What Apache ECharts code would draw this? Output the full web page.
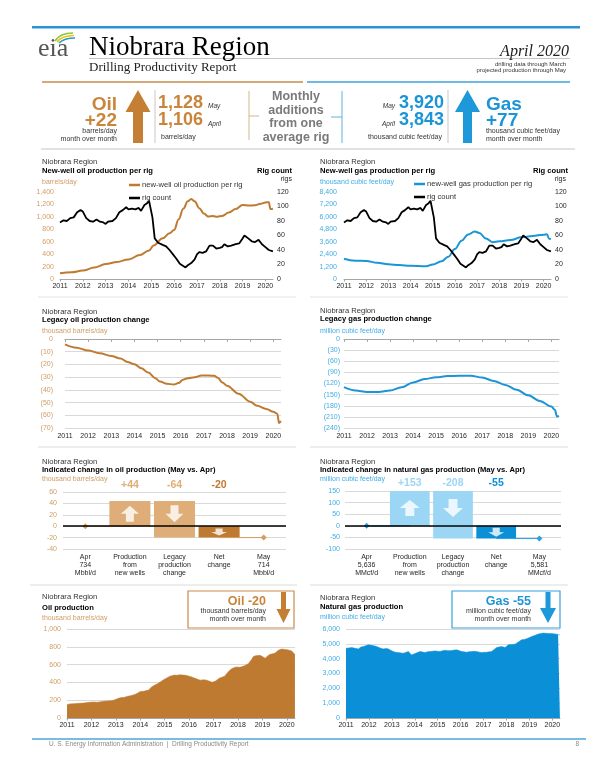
<!DOCTYPE html>
<html><head><meta charset="utf-8">
<script src="https://cdn.jsdelivr.net/npm/echarts/dist/echarts.min.js"></script>
<style>html,body{margin:0;padding:0;background:#fff}#c{width:613px;height:770px}</style>
</head><body><div id="c"></div>
<script>
// ---------------- data ----------------
const years = [2011,2012,2013,2014,2015,2016,2017,2018,2019,2020];
const oilPerRig = [[2011.0,92],[2011.5,108],[2012.0,135],[2012.5,185],[2013.0,240],[2013.5,275],[2014.0,315],[2014.5,385],[2014.9,460],[2015.1,540],[2015.5,655],[2015.8,735],[2016.0,790],[2016.2,960],[2016.4,1130],[2016.6,1250],[2016.75,1288],[2016.9,1250],[2017.1,1140],[2017.3,1055],[2017.5,1005],[2017.7,1012],[2017.9,1002],[2018.1,1015],[2018.4,1070],[2018.7,1125],[2019.0,1190],[2019.3,1182],[2019.5,1185],[2019.8,1210],[2020.0,1232],[2020.15,1236],[2020.22,1125],[2020.33,1130]];
const gasPerRig = [[2011.0,1950],[2011.5,1760],[2012.0,1750],[2012.5,1560],[2013.0,1420],[2013.5,1340],[2014.0,1290],[2014.7,1230],[2015.0,1400],[2015.4,1720],[2015.7,2150],[2016.0,2900],[2016.3,3700],[2016.6,4300],[2016.9,4580],[2017.1,4450],[2017.4,3900],[2017.7,3560],[2018.0,3640],[2018.5,3760],[2019.0,4020],[2019.5,4160],[2020.0,4280],[2020.15,4320],[2020.25,3880],[2020.33,3850]];
const rigCount = [[2011.0,78],[2011.05,76],[2011.15,81],[2011.3,80],[2011.45,84],[2011.6,85],[2011.75,92],[2011.9,95],[2012.0,93],[2012.15,84],[2012.3,80],[2012.45,79],[2012.6,82],[2012.75,79],[2012.9,78],[2013.0,76],[2013.1,79],[2013.3,80],[2013.45,84],[2013.6,92],[2013.75,95],[2013.9,99],[2014.0,96],[2014.15,97],[2014.3,96],[2014.45,98],[2014.55,94],[2014.7,102],[2014.8,104],[2014.9,108],[2014.97,106],[2015.05,85],[2015.15,56],[2015.3,50],[2015.5,47],[2015.65,45],[2015.8,40],[2015.95,34],[2016.1,28],[2016.25,21],[2016.4,18],[2016.5,16],[2016.6,19],[2016.75,22],[2016.9,27],[2017.0,34],[2017.1,37],[2017.25,36],[2017.4,38],[2017.55,46],[2017.7,46],[2017.85,42],[2018.0,43],[2018.1,44],[2018.2,48],[2018.35,45],[2018.5,46],[2018.7,48],[2018.85,49],[2019.0,56],[2019.08,60],[2019.25,56],[2019.4,52],[2019.55,51],[2019.7,54],[2019.85,48],[2020.0,44],[2020.15,40],[2020.33,38]];
const legacyOil = [[2011.0,-4.2],[2011.5,-6.8],[2012.0,-9.1],[2012.5,-11.2],[2013.0,-13.3],[2013.4,-15.4],[2013.7,-18],[2014.0,-19.8],[2014.3,-23],[2014.6,-26.4],[2014.9,-30.8],[2015.1,-33.4],[2015.4,-35.2],[2015.7,-35.8],[2015.9,-34.7],[2016.1,-32.1],[2016.3,-30.8],[2016.6,-30],[2016.9,-28.7],[2017.2,-28.7],[2017.45,-29],[2017.6,-30.5],[2017.8,-34.2],[2018.0,-36.8],[2018.5,-43],[2019.0,-49.3],[2019.3,-52.5],[2019.7,-55],[2020.0,-57.2],[2020.17,-58.7],[2020.25,-66],[2020.33,-64.5]];
const legacyGas = [[2011.0,-130],[2011.5,-139],[2012.0,-143],[2012.5,-143],[2013.0,-139],[2013.5,-130],[2014.0,-117],[2014.5,-108],[2015.0,-103],[2015.5,-100],[2016.0,-99],[2016.5,-99],[2017.0,-104],[2017.5,-113],[2018.0,-124],[2018.5,-137],[2019.0,-152],[2019.5,-167],[2020.0,-182],[2020.15,-191],[2020.25,-209],[2020.33,-207]];
const oilProd = [[2011.0,150],[2011.1,158],[2011.27,161],[2011.5,165],[2011.68,168],[2011.9,176],[2012.09,180],[2012.25,178],[2012.36,182],[2012.5,188],[2012.64,191],[2012.8,194],[2012.91,200],[2013.05,215],[2013.18,228],[2013.35,232],[2013.45,242],[2013.59,250],[2013.75,262],[2013.86,275],[2014.0,298],[2014.06,290],[2014.13,300],[2014.34,315],[2014.45,345],[2014.54,362],[2014.7,385],[2014.82,404],[2014.95,430],[2015.02,442],[2015.12,455],[2015.22,470],[2015.29,490],[2015.4,482],[2015.5,480],[2015.6,485],[2015.77,482],[2015.9,478],[2015.97,472],[2016.1,462],[2016.18,452],[2016.3,440],[2016.45,425],[2016.52,432],[2016.59,430],[2016.72,425],[2016.86,410],[2016.95,402],[2017.0,398],[2017.08,415],[2017.13,425],[2017.25,450],[2017.34,458],[2017.45,470],[2017.54,500],[2017.64,530],[2017.74,552],[2017.85,568],[2017.95,573],[2018.05,570],[2018.15,575],[2018.22,595],[2018.29,590],[2018.36,570],[2018.42,610],[2018.49,630],[2018.56,660],[2018.63,690],[2018.72,700],[2018.8,708],[2018.9,705],[2019.0,690],[2019.11,672],[2019.2,695],[2019.31,715],[2019.42,722],[2019.52,730],[2019.65,760],[2019.78,775],[2019.86,780],[2019.95,770],[2020.06,765],[2020.13,760],[2020.2,752],[2020.25,734],[2020.33,714]];
const gasProd = [[2011.0,4706],[2011.12,4720],[2011.25,4751],[2011.4,4700],[2011.54,4660],[2011.65,4780],[2011.76,4819],[2011.88,4880],[2011.97,4932],[2012.05,5045],[2012.12,4900],[2012.19,4819],[2012.3,4840],[2012.41,4774],[2012.52,4700],[2012.63,4660],[2012.75,4690],[2012.85,4660],[2012.95,4560],[2013.06,4480],[2013.17,4430],[2013.28,4412],[2013.4,4390],[2013.5,4367],[2013.6,4420],[2013.72,4480],[2013.8,4400],[2013.86,4253],[2013.94,4290],[2014.01,4344],[2014.12,4420],[2014.23,4480],[2014.34,4450],[2014.45,4412],[2014.55,4460],[2014.66,4480],[2014.77,4500],[2014.88,4525],[2015.0,4500],[2015.1,4480],[2015.2,4530],[2015.32,4570],[2015.45,4540],[2015.61,4548],[2015.72,4580],[2015.83,4593],[2015.95,4540],[2016.05,4480],[2016.15,4460],[2016.26,4434],[2016.37,4470],[2016.48,4480],[2016.6,4500],[2016.7,4480],[2016.82,4440],[2016.92,4412],[2017.03,4430],[2017.14,4434],[2017.25,4460],[2017.35,4480],[2017.46,4620],[2017.57,4751],[2017.68,4790],[2017.79,4819],[2017.87,4780],[2017.94,4751],[2018.02,4850],[2018.08,4932],[2018.22,4950],[2018.37,4977],[2018.5,5100],[2018.66,5271],[2018.77,5300],[2018.88,5339],[2019.0,5420],[2019.1,5497],[2019.25,5580],[2019.39,5656],[2019.5,5690],[2019.61,5724],[2019.72,5710],[2019.83,5701],[2019.95,5690],[2020.05,5680],[2020.12,5656],[2020.25,5636],[2020.33,5581]];
const stepLabels = ['Production\nfrom\nnew wells','Legacy\nproduction\nchange','Net\nchange'];
const oilStep = [734, 44, -64];   // April level, new wells, legacy
const gasStep = [5636, 153, -208];
const oilRigMayApr = [1128, 1106];
const gasRigMayApr = [3920, 3843];

// ---------------- styles ----------------
const SANS = '"Liberation Sans", Arial, sans-serif';
const SERIF = '"Liberation Serif", "Times New Roman", serif';
const OIL = '#bf7a31', OIL_LIGHT = '#dfad77', OIL_AX = '#d09c64', OIL_HDR = '#c8853b';
const GAS = '#1b95d6', GAS_LIGHT = '#9cd6f5', GAS_AX = '#43ade6', GAS_NET = '#0b90d7';
const fmt = v => Number(v).toLocaleString('en-US');
const paren = v => v < 0 ? '(' + (-v) + ')' : String(v);
const sign = v => (v > 0 ? '+' : '') + v;
const UP = 'path://M9,0 L18,8 L13,8 L13,16 L5,16 L5,8 L0,8 Z';
const DOWN = 'path://M5,0 L13,0 L13,8 L18,8 L9,16 L0,8 L5,8 Z';

function yearX(g, o) {
  return Object.assign({type:'value', gridIndex:g, min:2011, max:2020.333,
    axisLine:{show:true, onZero:false, lineStyle:{color:'#a6a6a6', width:1}},
    axisTick:{show:true, length:2.5, customValues:years, lineStyle:{color:'#a6a6a6'}},
    axisLabel:{customValues:years, fontSize:7, color:'#262626', margin:4, fontFamily:SANS, formatter:v => String(Math.round(v))},
    splitLine:{show:false}}, o || {});
}
function valY(g, min, max, interval, color, margin, formatter, o) {
  return Object.assign({type:'value', gridIndex:g, min, max, interval,
    axisLine:{show:false}, axisTick:{show:false},
    splitLine:{show:true, lineStyle:{color:'#d9d9d9', width:1}},
    axisLabel:{fontSize:7, color, margin, fontFamily:SANS, formatter}}, o || {});
}
const noGrid = {splitLine:{show:false}};

const grids = [
  {left:60, top:192, width:213, height:87},
  {left:344, top:192, width:207, height:87},
  {left:65, top:339, width:216, height:89},
  {left:344, top:339, width:215, height:89},
  {left:63, top:492, width:223, height:57},
  {left:345, top:491, width:216, height:58},
  {left:67, top:629, width:228, height:89},
  {left:346, top:629, width:214, height:89}
].map(g => Object.assign({containLabel:false, outerBoundsMode:'none'}, g));

function stepCats(step, unit) {
  const may = step[0] + step[1] + step[2];
  return ['Apr\n' + fmt(step[0]) + '\n' + unit, ...stepLabels, 'May\n' + fmt(may) + '\n' + unit];
}
function stepTop(step) { return ['', sign(step[1]), sign(step[2]), sign(step[1] + step[2]), '']; }
function catX(g, data) {
  return {type:'category', gridIndex:g, data, position:'bottom',
    axisLine:{show:false, onZero:false}, axisTick:{show:false},
    axisLabel:{interval:0, fontSize:7, lineHeight:8.2, color:'#262626', margin:4, verticalAlign:'top', fontFamily:SANS}};
}
function catTop(g, data, light, dark, margin) {
  return {type:'category', gridIndex:g, data, position:'top',
    axisLine:{show:false, onZero:false}, axisTick:{show:false},
    axisLabel:{interval:0, fontSize:10.5, fontWeight:'bold', margin, fontFamily:SANS,
      color:(v, i) => i === 3 ? dark : light}};
}

const xAxis = [
  yearX(0), yearX(1),
  yearX(2, {axisLine:{show:false, onZero:false}, axisTick:{show:false},
    axisLabel:{customValues:years, fontSize:7, color:'#262626', margin:5, fontFamily:SANS, formatter:v => String(Math.round(v))}}),
  yearX(2, {position:'top', axisLabel:{show:false}, axisTick:{show:true, inside:true, length:3, customValues:years, lineStyle:{color:'#a6a6a6'}}}),
  yearX(3, {axisLine:{show:false, onZero:false}, axisTick:{show:false},
    axisLabel:{customValues:years, fontSize:7, color:'#262626', margin:5, fontFamily:SANS, formatter:v => String(Math.round(v))}}),
  yearX(3, {position:'top', axisLabel:{show:false}, axisTick:{show:true, inside:true, length:3, customValues:years, lineStyle:{color:'#a6a6a6'}}}),
  catX(4, stepCats(oilStep, 'Mbbl/d')), catTop(4, stepTop(oilStep), OIL_LIGHT, OIL, 1),
  catX(5, stepCats(gasStep, 'MMcf/d')), catTop(5, stepTop(gasStep), GAS_LIGHT, GAS_NET, 2),
  yearX(6), yearX(7)
];
const yAxis = [
  valY(0, 0, 1400, 200, OIL_AX, 6, fmt, noGrid),
  valY(0, 0, 120, 20, '#262626', 4, null, Object.assign({position:'right'}, noGrid)),
  valY(1, 0, 8400, 1200, GAS_AX, 7, fmt, noGrid),
  valY(1, 0, 120, 20, '#262626', 4, null, Object.assign({position:'right'}, noGrid)),
  valY(2, -70, 0, 10, OIL_AX, 12, paren),
  valY(3, -240, 0, 30, GAS_AX, 4, paren),
  valY(4, -40, 60, 20, OIL_AX, 6, null),
  valY(5, -100, 150, 50, GAS_AX, 5, null),
  valY(6, 0, 1000, 200, OIL_AX, 6, fmt),
  valY(7, 0, 6000, 1000, GAS_AX, 6, fmt)
];

function lineS(name, xi, yi, data, color, width, smooth) {
  return {type:'line', name, xAxisIndex:xi, yAxisIndex:yi, data, symbol:'none', smooth: smooth || false,
    smoothMonotone:'x', lineStyle:{color, width}, itemStyle:{color}, z:3};
}
function waterfallSeries(xi, yi, step, light, dark, markerColor, arrowSizes) {
  const nw = step[1], net = step[1] + step[2];
  const st = 'wf' + xi;
  return [
    {type:'bar', xAxisIndex:xi, yAxisIndex:yi, stack:st, barWidth:'92%', data:['-', nw, nw, '-', '-'], itemStyle:{color:light}, z:2},
    {type:'bar', xAxisIndex:xi, yAxisIndex:yi, stack:st, barWidth:'92%', data:['-', '-', net, '-', '-'], itemStyle:{color:light}, z:2},
    {type:'bar', xAxisIndex:xi, yAxisIndex:yi, stack:st, barWidth:'92%', data:['-', '-', '-', net, '-'], itemStyle:{color:dark}, z:2},
    {type:'line', xAxisIndex:xi, yAxisIndex:yi, z:3, lineStyle:{color:markerColor, width:1}, itemStyle:{color:markerColor},
      data:[{value:0, symbol:'diamond', symbolSize:6}, {value:0, symbol:'none'}, '-', {value:net, symbol:'none'}, {value:net, symbol:'diamond', symbolSize:6}]},
    {type:'scatter', xAxisIndex:xi, yAxisIndex:yi, z:4, itemStyle:{color:'#fff'},
      data:[{value:[1, nw / 2], symbol:UP, symbolSize:arrowSizes[0]},
            {value:[2, nw / 2], symbol:DOWN, symbolSize:arrowSizes[1]},
            {value:[3, net / 2], symbol:DOWN, symbolSize:arrowSizes[2]}],
      markLine:{silent:true, symbol:['none','none'], label:{show:false}, lineStyle:{color:'#000', width:1.6, type:'solid'}, data:[{yAxis:0}]}}
  ];
}

const series = [
  lineS('new-well oil production per rig', 0, 0, oilPerRig, OIL, 2, 0.4),
  lineS('rig count', 0, 1, rigCount, '#000', 1.8),
  lineS('new-well gas production per rig', 1, 2, gasPerRig, GAS, 2, 0.4),
  lineS('rig count', 1, 3, rigCount, '#000', 1.8),
  lineS('legacy oil', 2, 4, legacyOil, OIL, 2, 0.35),
  lineS('legacy gas', 4, 5, legacyGas, GAS, 2, 0.35),
  ...waterfallSeries(6, 6, oilStep, OIL_LIGHT, OIL, '#d59c5f', [[18,16],[18,17],[16,7]]),
  ...waterfallSeries(8, 7, gasStep, GAS_LIGHT, GAS_NET, '#2e9fe0', [[20,16],[20,18],[16,9]]),
  Object.assign(lineS('oil production', 10, 8, oilProd, OIL, 0.5), {areaStyle:{color:OIL, opacity:1}}),
  Object.assign(lineS('gas production', 11, 9, gasProd, GAS_NET, 0.5), {areaStyle:{color:GAS_NET, opacity:1}})
];

// ---------------- graphic text / decorations ----------------
function T(x, y, text, size, color, o) {
  o = o || {};
  return {type:'text', x, y, silent:true, z:10, style:{text, fill:color,
    font:(o.italic ? 'italic ' : '') + (o.bold ? 'bold ' : '') + size + 'px ' + (o.family || SANS),
    textAlign:o.align || 'left', textVerticalAlign:'middle'}};
}
function L(x1, y1, x2, y2, color, w) { return {type:'line', silent:true, z:10, shape:{x1, y1, x2, y2}, style:{stroke:color, lineWidth:w}}; }
function P(points, color) { return {type:'polygon', silent:true, z:10, shape:{points}, style:{fill:color}}; }
function panelTitle(x, y1, y2, y3, title, unit, unitColor) {
  return [T(x, y1, 'Niobrara Region', 7.6, '#333'), T(x, y2, title, 7.6, '#000', {bold:true}), T(x, y3, unit, 7, unitColor)];
}
const oilNet = oilStep[1] + oilStep[2], gasNet = gasStep[1] + gasStep[2];
const graphics = [
  // header lines
  {type:'rect', silent:true, shape:{x:32, y:26, width:548, height:2.5}, style:{fill:'#2b93d2'}},
  L(89, 58.5, 570, 58.5, '#b5b5b5', 0.8),
  L(42, 82, 303, 82, '#c98d4c', 1.5),
  L(307, 82, 570, 82, '#3ea2dd', 1.5),
  L(41, 149, 575, 149, '#c4c4c4', 1),
  // eia logo
  {type:'bezierCurve', silent:true, shape:{x1:55, y1:41, cpx1:60, cpy1:33, x2:73, y2:33}, style:{stroke:'#8cc63e', lineWidth:1.6, fill:null}},
  {type:'bezierCurve', silent:true, shape:{x1:57, y1:42, cpx1:62, cpy1:35.5, x2:74, y2:35.5}, style:{stroke:'#f3c300', lineWidth:1.6, fill:null}},
  {type:'bezierCurve', silent:true, shape:{x1:59, y1:43, cpx1:64, cpy1:38, x2:75, y2:38}, style:{stroke:'#2b9bd6', lineWidth:1.6, fill:null}},
  T(38, 49, 'eia', 26, '#555', {family:SERIF}),
  T(89, 48, 'Niobrara Region', 27, '#000', {family:SERIF}),
  T(89, 67.5, 'Drilling Productivity Report', 13, '#222', {family:SERIF}),
  T(569, 51.5, 'April 2020', 16, '#222', {family:SERIF, italic:true, align:'right'}),
  T(566, 64.5, 'drilling data through March', 6, '#333', {align:'right'}),
  T(566, 70.5, 'projected production through May', 6, '#333', {align:'right'}),
  // oil header block
  T(117, 105, 'Oil', 19, OIL_HDR, {bold:true, align:'right'}),
  T(117, 120.5, sign(oilRigMayApr[0] - oilRigMayApr[1]), 19, OIL_HDR, {bold:true, align:'right'}),
  T(117, 131, 'barrels/day', 7, '#333', {align:'right'}),
  T(117, 139, 'month over month', 7, '#333', {align:'right'}),
  P([[138,90],[150.5,112],[143,112],[143,143],[133,143],[133,112],[125.5,112]], '#c47f34'),
  L(155, 90, 155, 143, '#c8c8c8', 1),
  T(158, 103.5, fmt(oilRigMayApr[0]), 18, OIL_HDR, {bold:true}),
  T(208, 106, 'May', 6.5, '#333', {italic:true}),
  T(158, 120.5, fmt(oilRigMayApr[1]), 18, OIL_HDR, {bold:true}),
  T(208, 124, 'April', 6.5, '#333', {italic:true}),
  T(161, 137, 'barrels/day', 7, '#333'),
  // brackets and middle text
  L(249, 91, 249, 140, '#d6b48c', 1), L(249, 116, 259, 116, '#d6b48c', 1),
  L(342, 91, 342, 143, '#5eb2e2', 1), L(331, 117, 342, 117, '#5eb2e2', 1),
  T(296, 97, 'Monthly', 12.5, '#7a7a7a', {bold:true, align:'center'}),
  T(296, 110.5, 'additions', 12.5, '#7a7a7a', {bold:true, align:'center'}),
  T(296, 124, 'from one', 12.5, '#7a7a7a', {bold:true, align:'center'}),
  T(296, 137.5, 'average rig', 12.5, '#7a7a7a', {bold:true, align:'center'}),
  // gas header block
  T(395, 106, 'May', 6.5, '#333', {italic:true, align:'right'}),
  T(399, 103.5, fmt(gasRigMayApr[0]), 18, GAS, {bold:true}),
  T(395, 124, 'April', 6.5, '#333', {italic:true, align:'right'}),
  T(399, 120.5, fmt(gasRigMayApr[1]), 18, GAS, {bold:true}),
  T(405, 137, 'thousand cubic feet/day', 7, '#333', {align:'center'}),
  L(448, 90, 448, 143, '#c8c8c8', 1),
  P([[467.5,90],[480,112],[472,112],[472,143],[463,143],[463,112],[455,112]], '#1d98d8'),
  T(486, 105, 'Gas', 19, GAS, {bold:true}),
  T(486, 120.5, sign(gasRigMayApr[0] - gasRigMayApr[1]), 19, GAS, {bold:true}),
  T(486, 131, 'thousand cubic feet/day', 7, '#333'),
  T(486, 139, 'month over month', 7, '#333'),
  // panel separators
  L(38, 297, 296, 297, '#e2e2e2', 1), L(310, 297, 568, 297, '#e2e2e2', 1),
  L(38, 447, 296, 447, '#dcdcdc', 1.2), L(310, 447, 568, 447, '#dcdcdc', 1.2),
  L(30, 585, 297, 585, '#dcdcdc', 1.2), L(310, 585, 568, 585, '#dcdcdc', 1.2),
  // panel titles
  ...panelTitle(42, 161.7, 170.7, 182.3, 'New-well oil production per rig', 'barrels/day', OIL_AX),
  T(292, 170.7, 'Rig count', 7.6, '#000', {bold:true, align:'right'}),
  T(292, 179.5, 'rigs', 7, '#262626', {align:'right'}),
  ...panelTitle(320, 161.7, 170.7, 182.3, 'New-well gas production per rig', 'thousand cubic feet/day', GAS_AX),
  T(568, 170.7, 'Rig count', 7.6, '#000', {bold:true, align:'right'}),
  T(566, 179.5, 'rigs', 7, '#262626', {align:'right'}),
  ...panelTitle(42, 311.7, 319.6, 331, 'Legacy oil production change', 'thousand barrels/day', OIL_AX),
  ...panelTitle(320, 311.2, 319.1, 331, 'Legacy gas production change', 'million cubic feet/day', GAS_AX),
  ...panelTitle(42, 461.7, 469.6, 479.3, 'Indicated change in oil production (May vs. Apr)', 'thousand barrels/day', OIL_AX),
  ...panelTitle(320, 461.7, 469.6, 479.3, 'Indicated change in natural gas production (May vs. Apr)', 'million cubic feet/day', GAS_AX),
  ...panelTitle(42, 596.7, 607.7, 618.3, 'Oil production', 'thousand barrels/day', OIL_AX),
  ...panelTitle(320, 597.7, 606.7, 617.3, 'Natural gas production', 'million cubic feet/day', GAS_AX),
  // boxes bottom row
  {type:'rect', silent:true, z:9, shape:{x:188, y:591, width:106, height:37}, style:{fill:'#fff', stroke:'#c98a48', lineWidth:1.2}},
  T(266, 602, 'Oil ' + sign(oilNet), 12.5, OIL_HDR, {bold:true, align:'right'}),
  T(266, 611, 'thousand barrels/day', 7, '#333', {align:'right'}),
  T(266, 619, 'month over month', 7, '#333', {align:'right'}),
  P([[281,592],[286,592],[286,609],[290.5,609],[283.5,623],[276.5,609],[281,609]], '#c47f34'),
  {type:'rect', silent:true, z:9, shape:{x:452, y:591, width:108, height:37}, style:{fill:'#fff', stroke:'#3aa0dd', lineWidth:1.2}},
  T(531, 602, 'Gas ' + sign(gasNet), 12.5, GAS, {bold:true, align:'right'}),
  T(531, 611, 'million cubic feet/day', 7, '#333', {align:'right'}),
  T(531, 619, 'month over month', 7, '#333', {align:'right'}),
  P([[545.5,592],[550.5,592],[550.5,608],[556,608],[548,623],[540,608],[545.5,608]], '#1d98d8'),
  // footer
  L(32, 739, 586, 739, '#4ea5dc', 1.5),
  T(49, 744.5, 'U. S. Energy Information Administration  |  Drilling Productivity Report', 6.5, '#8a8a8a'),
  T(579, 744.5, '8', 6.5, '#8a8a8a', {align:'right'})
];

const legendBase = {orient:'vertical', itemGap:5, itemWidth:11, itemHeight:2.5, icon:'rect', padding:0,
  textStyle:{fontSize:7.6, color:'#333', fontFamily:SANS, padding:[0,0,0,-3]}};
const chart = echarts.init(document.getElementById('c'), null, {renderer:'canvas'});
chart.setOption({
  animation:false,
  backgroundColor:'#fff',
  textStyle:{fontFamily:SANS},
  grid:grids, xAxis, yAxis, series,
  legend:[
    Object.assign({}, legendBase, {left:129, top:181, data:['new-well oil production per rig','rig count']}),
    Object.assign({}, legendBase, {left:414, top:180, data:['new-well gas production per rig','rig count']})
  ],
  graphic:{elements:graphics}
});
</script></body></html>
